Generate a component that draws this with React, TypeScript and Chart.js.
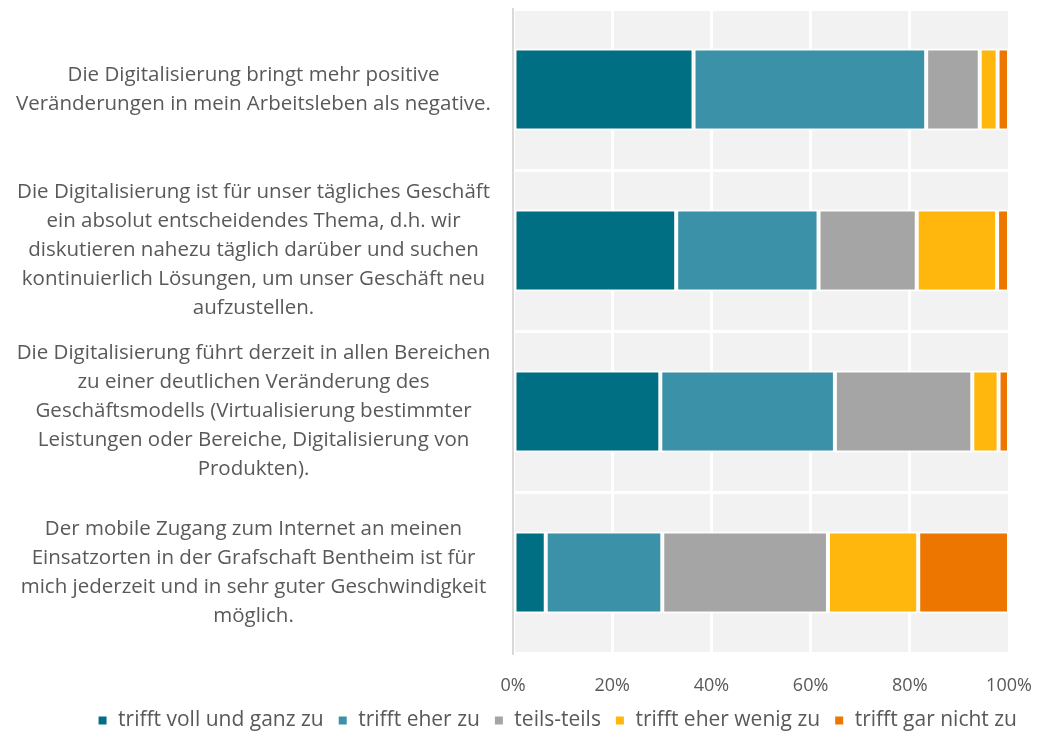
import React, { useEffect, useRef } from "react";
import { Chart, registerables } from "chart.js";

Chart.register(...registerables);

const categories: string[][] = [
  ["Die Digitalisierung bringt mehr positive", "Veränderungen in mein Arbeitsleben als negative."],
  [
    "Die Digitalisierung ist für unser tägliches Geschäft",
    "ein absolut entscheidendes Thema, d.h. wir",
    "diskutieren nahezu täglich darüber und suchen",
    "kontinuierlich Lösungen, um unser Geschäft neu",
    "aufzustellen.",
  ],
  [
    "Die Digitalisierung führt derzeit in allen Bereichen",
    "zu einer deutlichen Veränderung des",
    "Geschäftsmodells (Virtualisierung bestimmter",
    "Leistungen oder Bereiche, Digitalisierung von",
    "Produkten).",
  ],
  [
    "Der mobile Zugang zum Internet an meinen",
    "Einsatzorten in der Grafschaft Bentheim ist für",
    "mich jederzeit und in sehr guter Geschwindigkeit",
    "möglich.",
  ],
];

const seriesNames = [
  "trifft voll und ganz zu",
  "trifft eher zu",
  "teils-teils",
  "trifft eher wenig zu",
  "trifft gar nicht zu",
];

const vollUndGanz = [36.4, 32.9, 29.7, 6.6];
const eherZu = [46.9, 28.7, 35.2, 23.5];
const teilsTeils = [10.8, 19.8, 27.7, 33.4];
const eherWenig = [3.6, 16.2, 5.3, 18.2];
const garNicht = [2.3, 2.4, 2.1, 18.3];

const xTicks = [0, 20, 40, 60, 80, 100];

const colors = ["#006F83", "#3B91A8", "#A5A5A5", "#FFB70D", "#ED7600"];

const FONT = "'Open Sans', 'Noto Sans', sans-serif";
const TEXT = "#595959";

const bgPlugin = {
  id: "plotBg",
  beforeDraw(chart: any) {
    const { ctx, chartArea } = chart;
    ctx.save();
    ctx.fillStyle = "#F2F2F2";
    ctx.fillRect(chartArea.left, chartArea.top, chartArea.right - chartArea.left, chartArea.bottom - chartArea.top);
    ctx.restore();
  },
};

export default function App() {
  const ref = useRef<HTMLCanvasElement | null>(null);

  useEffect(() => {
    if (!ref.current) return;
    const values = [vollUndGanz, eherZu, teilsTeils, eherWenig, garNicht];
    const chart = new Chart(ref.current, {
      type: "bar",
      data: {
        labels: categories,
        datasets: values.map((v, i) => ({
          label: seriesNames[i],
          data: v,
          backgroundColor: colors[i],
          borderColor: "#FFFFFF",
          borderWidth: 2,
          borderSkipped: false,
          categoryPercentage: 1,
          barPercentage: 0.51,
        })),
      },
      options: {
        indexAxis: "y",
        responsive: false,
        maintainAspectRatio: false,
        animation: false,
        layout: { padding: { top: 1, right: 0, left: 0, bottom: 0 } },
        plugins: {
          tooltip: { enabled: false },
          legend: {
            position: "bottom",
            align: "end",
            labels: {
              color: TEXT,
              font: { family: FONT, size: 21 },
              boxWidth: 10,
              boxHeight: 10,
              padding: 14,
            },
          },
        },
        scales: {
          x: {
            stacked: true,
            min: 0,
            max: 100,
            afterBuildTicks(scale: any) {
              scale.ticks = xTicks.map((v) => ({ value: v }));
            },
            afterFit(scale: any) {
              scale.height = 43;
              scale.paddingLeft = 0;
              scale.paddingRight = 22;
            },
            ticks: {
              color: TEXT,
              font: { family: FONT, size: 18 },
              padding: 22,
              callback: (v: any) => v + "%",
            },
            grid: { color: "#FFFFFF", lineWidth: 3, drawTicks: false },
            border: { display: false },
          },
          y: {
            stacked: true,
            afterFit(scale: any) {
              scale.width = 505;
              scale.paddingTop = 0;
              scale.paddingBottom = 0;
            },
            ticks: {
              color: TEXT,
              font: { family: FONT, size: 20.5, lineHeight: 1.415 },
              crossAlign: "center",
              padding: 22,
            },
            grid: { color: "#FFFFFF", lineWidth: 3, drawTicks: false, offset: true },
            border: { display: true, color: "#D9D9D9", width: 2 },
          },
        },
      },
      plugins: [bgPlugin],
    });
    return () => chart.destroy();
  }, []);

  return (
    <div style={{ width: 1023, height: 733 }}>
      <canvas ref={ref} width={1023} height={733} style={{ display: "block" }} />
    </div>
  );
}
